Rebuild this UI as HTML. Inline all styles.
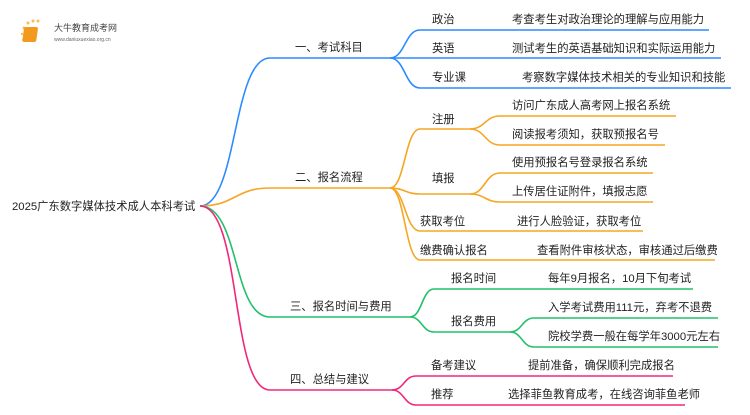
<!DOCTYPE html>
<html><head><meta charset="utf-8"><style>
body{margin:0;background:#fff;}
svg text{font-family:"Liberation Sans","Noto Sans CJK SC",sans-serif;font-size:11.3px;fill:#222;}
</style></head><body>
<svg width="750" height="410" viewBox="0 0 750 410" xmlns="http://www.w3.org/2000/svg">
<g fill="none" stroke-width="1.6">
<g stroke="#2b8cff">
<path d="M200 206 C238 206 232 58 270 58 H390"/>
<path d="M390 58 C405 58 405 30 420 30 H709"/>
<path d="M390 58 H721"/>
<path d="M390 58 C405 58 405 88 420 88 H731"/>
</g>
<g stroke="#f5a623">
<path d="M200 206 C235 206 235 188 270 188 H390"/>
<path d="M390 188 C405 188 405 129 420 129 H470"/>
<path d="M470 129 C485 129 485 116 500 116 H676"/>
<path d="M470 129 C485 129 485 145 500 145 H665"/>
<path d="M390 188 C405 188 405 194 420 194 H470"/>
<path d="M470 194 C485 194 485 173 500 173 H653"/>
<path d="M470 194 C485 194 485 202 500 202 H653"/>
<path d="M390 188 C405 188 405 231 420 231 H643"/>
<path d="M390 188 C405 188 405 260 420 260 H715"/>
</g>
<g stroke="#22c06a">
<path d="M200 206 C240 206 232 317 270 317 H410"/>
<path d="M410 317 C422 317 422 289 434 289 H693"/>
<path d="M410 317 C422 317 422 332 434 332 H510"/>
<path d="M510 332 C522 332 522 318 534 318 H718"/>
<path d="M510 332 C522 332 522 347 534 347 H718"/>
</g>
<g stroke="#f0287a">
<path d="M200 206 C242 206 230 390 270 390 H392"/>
<path d="M392 390 C404 390 404 376 416 376 H673"/>
<path d="M392 390 C404 390 404 405 416 405 H685"/>
</g>
</g>
<g>
<circle cx="24" cy="28" r="1.5" fill="#f7c04a"/><circle cx="28" cy="23" r="1.5" fill="#f7c04a"/><circle cx="33" cy="21" r="1.5" fill="#f7c04a"/><circle cx="38" cy="21" r="1.5" fill="#f7c04a"/><circle cx="22" cy="34" r="1.2" fill="#f7c04a"/><circle cx="23" cy="40" r="1" fill="#f7c04a"/>
<rect x="28" y="27" width="14" height="15" rx="2" fill="#f29a1f" transform="skewX(-8)"/>
<text x="54" y="31" style="font-size:9px;fill:#444">大牛教育成考网</text>
<text x="54" y="41" style="font-size:5px;fill:#666">www.daniuxuexiao.org.cn</text>
</g>
<text x="12" y="210">2025广东数字媒体技术成人本科考试</text>
<text x="295" y="51">一、考试科目</text>
<text x="295" y="181">二、报名流程</text>
<text x="290" y="310">三、报名时间与费用</text>
<text x="290" y="383">四、总结与建议</text>
<text x="432" y="23">政治</text><text x="512" y="23">考查考生对政治理论的理解与应用能力</text>
<text x="432" y="52">英语</text><text x="512" y="52">测试考生的英语基础知识和实际运用能力</text>
<text x="432" y="81">专业课</text><text x="522" y="81">考察数字媒体技术相关的专业知识和技能</text>
<text x="432" y="123">注册</text>
<text x="512" y="109">访问广东成人高考网上报名系统</text>
<text x="512" y="138">阅读报考须知，获取预报名号</text>
<text x="432" y="182">填报</text>
<text x="512" y="166">使用预报名号登录报名系统</text>
<text x="512" y="195">上传居住证附件，填报志愿</text>
<text x="420" y="225">获取考位</text><text x="517" y="225">进行人脸验证，获取考位</text>
<text x="420" y="254">缴费确认报名</text><text x="537" y="254">查看附件审核状态，审核通过后缴费</text>
<text x="451" y="282">报名时间</text><text x="548" y="282">每年9月报名，10月下旬考试</text>
<text x="451" y="325">报名费用</text>
<text x="548" y="311">入学考试费用111元，弃考不退费</text>
<text x="548" y="340">院校学费一般在每学年3000元左右</text>
<text x="431" y="369">备考建议</text><text x="528" y="369">提前准备，确保顺利完成报名</text>
<text x="431" y="398">推荐</text><text x="508" y="398">选择菲鱼教育成考，在线咨询菲鱼老师</text>
</svg>
</body></html>
